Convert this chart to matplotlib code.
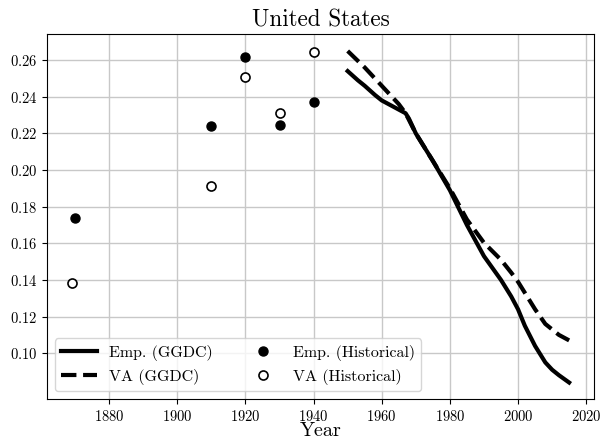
import matplotlib
matplotlib.use("Agg")
from matplotlib import pyplot as plt

plt.rcParams['font.family'] = ['cmr10', 'DejaVu Serif']
plt.rcParams['mathtext.fontset'] = 'cm'
plt.rcParams['axes.formatter.use_mathtext'] = True

# GGDC series
years_emp_ggdc = [1950, 1953, 1955, 1958, 1960, 1963, 1965, 1967, 1968, 1970, 1975, 1980, 1985,
                  1990, 1995, 1998, 2000, 2002, 2005, 2008, 2010, 2012, 2015]
emp_ggdc = [0.254, 0.249, 0.246, 0.241, 0.238, 0.235, 0.233, 0.231, 0.228, 0.220, 0.205, 0.189, 0.170,
            0.153, 0.140, 0.131, 0.124, 0.115, 0.104, 0.095, 0.091, 0.088, 0.084]
years_va_ggdc = [1950, 1955, 1960, 1965, 1967, 1970, 1975, 1980, 1985, 1990,
                 1995, 1998, 2000, 2002, 2005, 2008, 2010, 2012, 2015]
va_ggdc = [0.265, 0.256, 0.246, 0.236, 0.231, 0.220, 0.205, 0.190, 0.173, 0.1603,
           0.151, 0.144, 0.139, 0.133, 0.124, 0.116, 0.113, 0.110, 0.107]

# historical points
years_emp_hist = [1870, 1910, 1920, 1930, 1940]
emp_hist = [0.174, 0.224, 0.2615, 0.2247, 0.2372]
years_va_hist = [1869, 1910, 1920, 1930, 1940]
va_hist = [0.1385, 0.1913, 0.2509, 0.2312, 0.2642]

fig = plt.figure(figsize=(6, 4.41), dpi=100)
ax = fig.add_axes([0.078, 0.095, 0.912, 0.827])

ax.plot(years_emp_ggdc, emp_ggdc, color='black', lw=3, label='Emp. (GGDC)')
ax.plot(years_va_ggdc, va_ggdc, color='black', lw=3, ls='--', label='VA (GGDC)')
ax.plot(years_emp_hist, emp_hist, 'o', color='black', ms=6.5, label='Emp. (Historical)')
ax.plot(years_va_hist, va_hist, 'o', mfc='white', mec='black', mew=1.2, ms=6.5, label='VA (Historical)')

ax.grid(True, color='#c8c8c8', lw=1)
ax.set_axisbelow(True)
ax.set_yticks([0.10, 0.12, 0.14, 0.16, 0.18, 0.20, 0.22, 0.24, 0.26])
ax.set_xticks([1880, 1900, 1920, 1940, 1960, 1980, 2000, 2020])
ax.tick_params(labelsize=10.5)
ax.set_title('United States', fontsize=16.7)
ax.set_xlabel('Year', fontsize=14.5, labelpad=-1)
ax.legend(loc='lower left', ncol=2, fontsize=11.5, columnspacing=2.0,
          handlelength=2.25, handletextpad=0.75)

plt.savefig('out.png', dpi=100)
